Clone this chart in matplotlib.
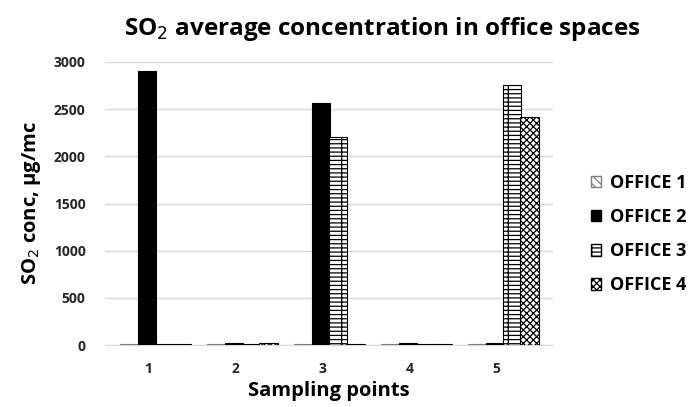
import numpy as np
import matplotlib
matplotlib.use("Agg")
import matplotlib.pyplot as plt
from matplotlib.patches import Patch

# Data
points = ['1', '2', '3', '4', '5']
office1 = [12, 14, 10, 12, 12]
office2 = [2900, 20, 2560, 22, 18]
office3 = [14, 12, 2200, 14, 2760]
office4 = [16, 18, 12, 15, 2420]
names = ['OFFICE 1', 'OFFICE 2', 'OFFICE 3', 'OFFICE 4']

plt.rcParams['font.family'] = 'Open Sans'
plt.rcParams['hatch.linewidth'] = 0.9

fig = plt.figure(figsize=(6.92, 4.07), dpi=100)
ax = fig.add_axes([0.152, 0.152, 0.647, 0.696])

x = np.arange(1, len(points) + 1)
w = 0.21
offsets = [-0.22, -0.02, 0.18, 0.38]
styles = [
    dict(facecolor='white', edgecolor='#7f7f7f', hatch='\\\\\\\\'),
    dict(facecolor='black', edgecolor='black'),
    dict(facecolor='white', edgecolor='black', hatch='----|'),
    dict(facecolor='white', edgecolor='black', hatch='xxxxx'),
]
series = [office1, office2, office3, office4]
for vals, off, st, nm in zip(series, offsets, styles, names):
    ax.bar(x + off, vals, w, linewidth=0.8, label=nm, zorder=3, **st)

ax.set_xlim(0.5, 5.65)
ax.set_ylim(0, 3000)
ax.set_yticks(np.arange(0, 3001, 500))
ax.set_xticks(x)
ax.set_xticklabels(points)
ax.grid(axis='y', color='#d9d9d9', linewidth=1, zorder=0)
for s in ['top', 'right', 'left']:
    ax.spines[s].set_visible(False)
ax.spines['bottom'].set_color('#d9d9d9')
ax.tick_params(length=0)
ax.tick_params(axis='y', pad=14, labelsize=10)
ax.tick_params(axis='x', pad=12, labelsize=10)
for lab in ax.get_xticklabels() + ax.get_yticklabels():
    lab.set_fontweight('bold')
    lab.set_color('#262626')

ax.set_ylabel('SO$_2$ conc, µg/mc', fontsize=14.5, fontweight='bold', labelpad=8)
ax.set_xlabel('Sampling points', fontsize=14.5, fontweight='bold', labelpad=4)
fig.text(0.553, 0.928, 'SO$_2$ average concentration in office spaces',
         ha='center', va='center', fontsize=17.5, fontweight='bold')

handles = [Patch(label=nm, **st) for nm, st in zip(names, styles)]
fig.legend(handles=handles, loc='center left', bbox_to_anchor=(0.83, 0.425),
           frameon=False, prop={'weight': 'bold', 'size': 13},
           handlelength=0.6, handleheight=0.6, handletextpad=0.5,
           labelspacing=0.9)

fig.savefig('out.png', dpi=100)
